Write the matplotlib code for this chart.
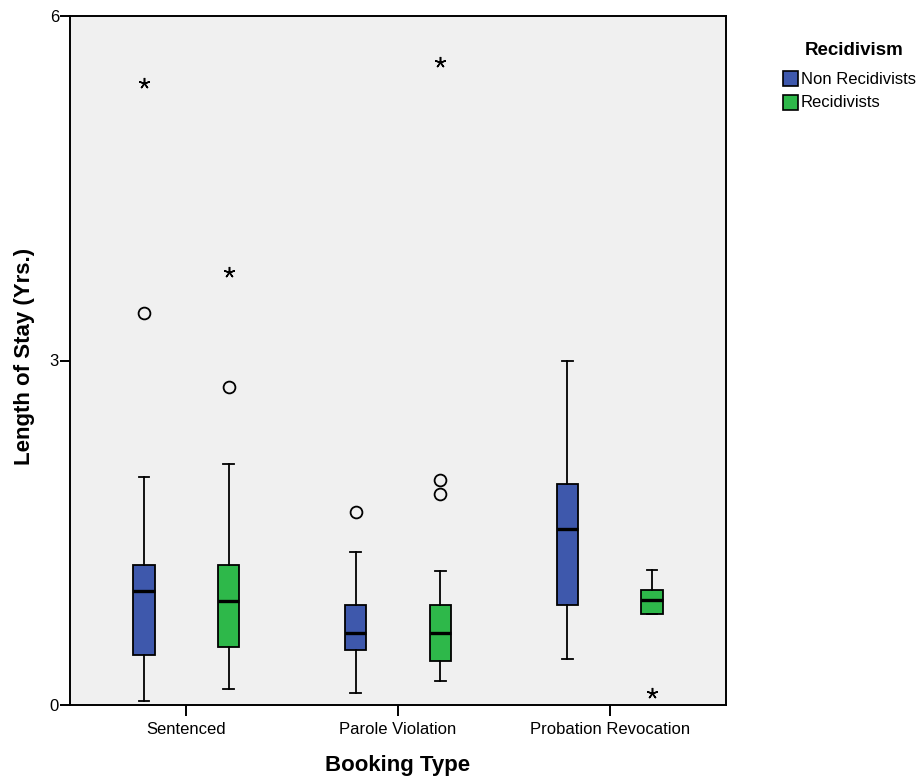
import matplotlib
matplotlib.use("Agg")
import matplotlib.pyplot as plt
from matplotlib.patches import Rectangle

plt.rcParams["font.family"] = ["Liberation Sans", "DejaVu Sans"]

# Booking types on the x axis and the two recidivism groups
categories = ["Sentenced", "Parole Violation", "Probation Revocation"]
groups = ["Non Recidivists", "Recidivists"]
group_colors = ["#3e58ac", "#2eb84a"]

# Box summaries (years): lower whisker, Q1, median, Q3, upper whisker
whislo = [[0.037, 0.105, 0.401], [0.142, 0.206, 0.795]]
q1 = [[0.435, 0.476, 0.871], [0.505, 0.386, 0.795]]
median = [[0.993, 0.630, 1.530], [0.906, 0.630, 0.914]]
q3 = [[1.219, 0.873, 1.922], [1.222, 0.873, 1.004]]
whishi = [[1.988, 1.332, 3.00], [2.099, 1.167, 1.178]]

# Outliers (circles) and extreme values (asterisks)
outliers = [[[3.411], [1.681], []], [[2.772], [1.962, 1.840], []]]
extremes = [[[5.414], [], []], [[3.773], [5.597], [0.107]]]

y_ticks = [0, 3, 6]

fig = plt.figure(figsize=(9.21, 7.78), dpi=100)
ax = fig.add_axes([70 / 921, 1 - 705 / 778, 656 / 921, 689 / 778])
ax.set_facecolor("#f0f0f0")

offsets = [-0.2, 0.2]
box_w = 0.1
for g in range(len(groups)):
    stats = []
    positions = []
    for c in range(len(categories)):
        stats.append(dict(med=median[g][c], q1=q1[g][c], q3=q3[g][c],
                          whislo=whislo[g][c], whishi=whishi[g][c], fliers=[]))
        positions.append(c + offsets[g])
    ax.bxp(stats, positions=positions, widths=box_w, patch_artist=True,
           showfliers=False, capwidths=0.05,
           boxprops=dict(facecolor=group_colors[g], edgecolor="black", linewidth=1.3),
           medianprops=dict(color="black", linewidth=2.4, solid_capstyle="butt"),
           whiskerprops=dict(color="black", linewidth=1.3),
           capprops=dict(color="black", linewidth=1.3))
    for c in range(len(categories)):
        x = c + offsets[g]
        if outliers[g][c]:
            ax.plot([x] * len(outliers[g][c]), outliers[g][c], linestyle="none",
                    marker="o", markersize=8.5, markerfacecolor="none",
                    markeredgecolor="black", markeredgewidth=1.3, zorder=4)
        if extremes[g][c]:
            ax.plot([x] * len(extremes[g][c]), extremes[g][c], linestyle="none",
                    marker=(5, 2, 0), markersize=8, markeredgecolor="black",
                    markeredgewidth=1.1, zorder=4)

ax.set_xlim(-0.55, 2.55)
ax.set_ylim(0, 6)
ax.set_xticks(range(len(categories)))
ax.set_xticklabels(categories)
ax.set_yticks(y_ticks)
ax.set_yticklabels([str(t) for t in y_ticks])
ax.tick_params(axis="x", length=8, width=1.4, pad=4, labelsize=12)
ax.tick_params(axis="y", length=7, width=1.4, pad=1, labelsize=12)
for s in ax.spines.values():
    s.set_linewidth(1.4)
    s.set_color("black")

ax.set_xlabel("Booking Type", fontsize=16, fontweight="bold", va="center")
ax.xaxis.set_label_coords(0.4992, -0.0871)
ax.set_ylabel("Length of Stay (Yrs.)", fontsize=16, fontweight="bold", va="center")
ax.yaxis.set_label_coords(-0.0686, 0.5065)

# Legend block to the right of the plot
W, H = 921, 778
fig.text(854.5 / W, 1 - 50.7 / H, "Recidivism", fontsize=13.5, fontweight="bold",
         ha="center", va="center")
for i, (name, col) in enumerate(zip(groups, group_colors)):
    top = 71.5 + i * 23.5
    fig.patches.append(Rectangle((783 / W, 1 - (top + 14.5) / H), 14.5 / W, 14.5 / H,
                                 transform=fig.transFigure, facecolor=col,
                                 edgecolor="black", linewidth=1.2))
    fig.text(801 / W, 1 - (top + 7.5) / H, name, fontsize=12, ha="left", va="center")

fig.savefig("out.png", dpi=100)
